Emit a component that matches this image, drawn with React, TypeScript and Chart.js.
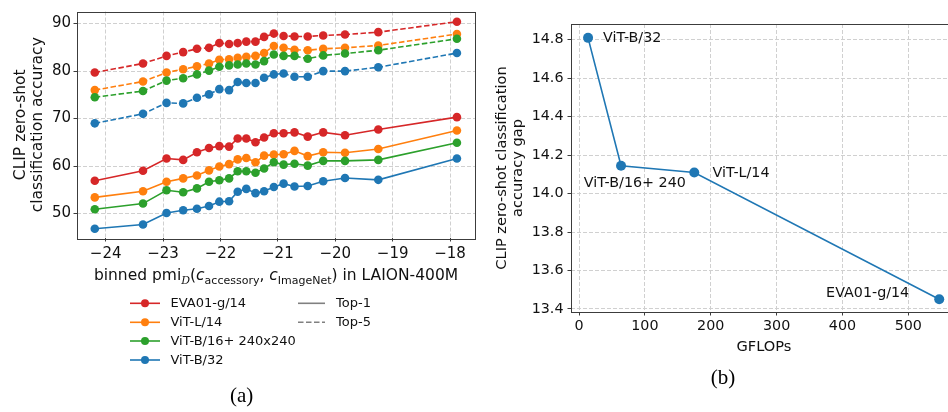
import React, { useEffect, useRef } from "react";
import { Chart, registerables } from "chart.js";
Chart.register(...registerables);

// ---------------- Panel (a) data ----------------
const pmiBins = [-24.19, -23.35, -22.94, -22.65, -22.41, -22.2, -22.02, -21.85, -21.7, -21.55, -21.39, -21.24, -21.07, -20.9, -20.71, -20.48, -20.21, -19.83, -19.25, -17.88];
const modelNames = ["EVA01-g/14", "ViT-L/14", "ViT-B/16+ 240x240", "ViT-B/32"];
const metricNames = ["Top-1", "Top-5"];
const eva01Top1 = [56.9, 59.0, 61.6, 61.3, 62.9, 63.8, 64.2, 64.1, 65.8, 65.8, 65.0, 66.0, 66.9, 66.9, 67.1, 66.2, 67.1, 66.5, 67.7, 70.3];
const eva01Top5 = [79.7, 81.6, 83.2, 84.0, 84.7, 84.9, 85.9, 85.7, 85.9, 86.2, 86.2, 87.2, 87.9, 87.4, 87.3, 87.3, 87.5, 87.7, 88.2, 90.4];
const vitL14Top1 = [53.4, 54.7, 56.7, 57.4, 58.0, 59.1, 59.9, 60.4, 61.4, 61.7, 60.8, 62.2, 62.4, 62.5, 63.2, 62.1, 62.9, 62.8, 63.6, 67.5];
const vitL14Top5 = [76.0, 77.8, 79.7, 80.4, 81.0, 81.6, 82.4, 82.5, 82.8, 83.0, 83.2, 83.8, 85.3, 84.9, 84.5, 84.4, 84.7, 84.9, 85.4, 87.8];
const vitB16Top1 = [50.9, 52.1, 54.9, 54.5, 55.3, 56.7, 57.0, 57.4, 58.9, 58.9, 58.6, 59.5, 60.8, 60.3, 60.5, 60.1, 61.1, 61.1, 61.3, 64.9];
const vitB16Top5 = [74.5, 75.8, 78.0, 78.5, 79.3, 80.1, 80.9, 81.2, 81.4, 81.6, 81.4, 82.1, 83.5, 83.2, 83.2, 82.6, 83.3, 83.7, 84.4, 86.8];
const vitB32Top1 = [46.8, 47.7, 50.1, 50.7, 51.0, 51.6, 52.5, 52.6, 54.6, 55.2, 54.3, 54.7, 55.6, 56.3, 55.7, 55.8, 56.8, 57.5, 57.1, 61.6];
const vitB32Top5 = [69.0, 71.0, 73.3, 73.2, 74.4, 75.1, 76.2, 76.0, 77.7, 77.5, 77.5, 78.6, 79.3, 79.5, 78.8, 78.8, 80.0, 80.0, 80.8, 83.8];
const pmiTicks = [-24, -23, -22, -21, -20, -19, -18];
const accuracyTicks = [50, 60, 70, 80, 90];

// ---------------- Panel (b) data ----------------
const gapModels = ["ViT-B/32", "ViT-B/16+ 240", "ViT-L/14", "EVA01-g/14"];
const gflops = [13.7, 63.8, 175, 547];
const accuracyGap = [14.81, 14.145, 14.11, 13.45];
const gflopTicks = [0, 100, 200, 300, 400, 500];
const gapTicks = [13.4, 13.6, 13.8, 14.0, 14.2, 14.4, 14.6, 14.8];

// ---------------- Styles ----------------
const FONT = "DejaVu Sans";
const SERIF = "Liberation Serif";
const modelColors = ["#d62728", "#ff7f0e", "#2ca02c", "#1f77b4"];
const blue = "#1f77b4";
const textColor = "#111";
const gridColor = "#d0d0d0";
const frameColor = "#3c3c3c";
const dashPattern = [5.5, 2.5];
const labelOffsets = [
  { dx: 15, dy: 0.7, align: "left" },
  { dx: -37.3, dy: 17.7, align: "left" },
  { dx: 18.3, dy: 0.4, align: "left" },
  { dx: -30, dy: -6.3, align: "right" },
];

const fmtMinus = (v: number) => (v < 0 ? "\u2212" + Math.abs(v) : String(v));

function drawFrame(chart: any) {
  const { ctx, chartArea: a } = chart;
  ctx.save();
  ctx.strokeStyle = frameColor;
  ctx.lineWidth = 1;
  ctx.setLineDash([]);
  ctx.strokeRect(Math.round(a.left) + 0.5, Math.round(a.top) + 0.5, Math.round(a.right - a.left), Math.round(a.bottom - a.top));
  ctx.restore();
}

function drawRotated(ctx: any, text: string, x: number, y: number, font: string) {
  ctx.save();
  ctx.translate(x, y);
  ctx.rotate(-Math.PI / 2);
  ctx.font = font;
  ctx.fillStyle = textColor;
  ctx.textAlign = "center";
  ctx.textBaseline = "alphabetic";
  ctx.fillText(text, 0, 0);
  ctx.restore();
}

const leftPlugin = {
  id: "leftDecor",
  afterDraw(chart: any) {
    const { ctx, chartArea: a } = chart;
    drawFrame(chart);
    const cy = (a.top + a.bottom) / 2;
    drawRotated(ctx, "CLIP zero-shot", 25, cy, `15.5px "${FONT}"`);
    drawRotated(ctx, "classification accuracy", 42, cy, `15.5px "${FONT}"`);

    // x title with subscripts
    const main = `15.5px "${FONT}"`;
    const ital = `italic 15.5px "${FONT}"`;
    const sub = `11px "${FONT}"`;
    const parts: any[] = [
      { t: "binned pmi", f: main, dy: 0 },
      { t: "D", f: `italic 11px "DejaVu Serif"`, dy: 3.5 },
      { t: "(", f: main, dy: 0 },
      { t: "c", f: ital, dy: 0 },
      { t: "accessory", f: sub, dy: 3.5 },
      { t: ", ", f: main, dy: 0 },
      { t: "c", f: ital, dy: 0 },
      { t: "ImageNet", f: sub, dy: 3.5 },
      { t: ") in LAION-400M", f: main, dy: 0 },
    ];
    ctx.save();
    ctx.fillStyle = textColor;
    ctx.textBaseline = "alphabetic";
    ctx.textAlign = "left";
    let total = 0;
    parts.forEach((p) => { ctx.font = p.f; p.w = ctx.measureText(p.t).width; total += p.w; });
    let x = (a.left + a.right) / 2 - total / 2;
    parts.forEach((p) => { ctx.font = p.f; ctx.fillText(p.t, x, 280 + p.dy); x += p.w; });

    // legend
    const rows = [303.3, 322.3, 341, 360];
    ctx.font = `13px "${FONT}"`;
    ctx.textBaseline = "middle";
    modelNames.forEach((name, i) => {
      const y = rows[i];
      ctx.strokeStyle = modelColors[i];
      ctx.lineWidth = 1.6;
      ctx.setLineDash([]);
      ctx.beginPath(); ctx.moveTo(130, y); ctx.lineTo(160, y); ctx.stroke();
      ctx.fillStyle = modelColors[i];
      ctx.beginPath(); ctx.arc(145, y, 4, 0, Math.PI * 2); ctx.fill();
      ctx.fillStyle = textColor;
      ctx.fillText(name, 170.5, y + 0.5);
    });
    metricNames.forEach((name, i) => {
      const y = rows[i];
      ctx.strokeStyle = "#808080";
      ctx.lineWidth = 1.6;
      ctx.setLineDash(i === 0 ? [] : dashPattern);
      ctx.beginPath(); ctx.moveTo(298, y); ctx.lineTo(325, y); ctx.stroke();
      ctx.setLineDash([]);
      ctx.fillStyle = textColor;
      ctx.fillText(name, 336, y + 0.5);
    });

    // caption
    ctx.font = `21px "${SERIF}"`;
    ctx.fillStyle = "#000";
    ctx.textAlign = "center";
    ctx.textBaseline = "alphabetic";
    ctx.fillText("(a)", 241.7, 401.5);
    ctx.restore();
  },
};

const rightPlugin = {
  id: "rightDecor",
  afterDraw(chart: any) {
    const { ctx, chartArea: a } = chart;
    drawFrame(chart);
    drawRotated(ctx, "CLIP zero-shot classification", 26, (a.top + a.bottom) / 2, `14.6px "${FONT}"`);
    drawRotated(ctx, "accuracy gap", 42, (a.top + a.bottom) / 2, `14.6px "${FONT}"`);
    ctx.save();
    ctx.fillStyle = textColor;
    ctx.font = `14.6px "${FONT}"`;
    ctx.textAlign = "center";
    ctx.textBaseline = "alphabetic";
    ctx.fillText("GFLOPs", (a.left + a.right) / 2, 350.5);

    const meta = chart.getDatasetMeta(0);
    ctx.font = `14.3px "${FONT}"`;
    ctx.textBaseline = "middle";
    gapModels.forEach((name, i) => {
      const pt = meta.data[i];
      const o = labelOffsets[i];
      ctx.textAlign = o.align;
      ctx.fillText(name, pt.x + o.dx, pt.y + o.dy);
    });

    ctx.font = `21px "${SERIF}"`;
    ctx.fillStyle = "#000";
    ctx.textAlign = "center";
    ctx.textBaseline = "alphabetic";
    ctx.fillText("(b)", 243, 383.5);
    ctx.restore();
  },
};

function gridOpts() {
  return {
    color: gridColor,
    lineWidth: 1,
    drawTicks: true,
    tickLength: 3.5,
    tickColor: frameColor,
    tickWidth: 1,
    tickBorderDash: [],
  };
}

function leftConfig(): any {
  const top1 = [eva01Top1, vitL14Top1, vitB16Top1, vitB32Top1];
  const top5 = [eva01Top5, vitL14Top5, vitB16Top5, vitB32Top5];
  const datasets: any[] = [];
  for (let i = modelNames.length - 1; i >= 0; i--) {
    [top1[i], top5[i]].forEach((series, k) => {
      datasets.push({
        label: modelNames[i] + " " + metricNames[k],
        data: pmiBins.map((x, j) => ({ x, y: series[j] })),
        borderColor: modelColors[i],
        backgroundColor: modelColors[i],
        pointBackgroundColor: modelColors[i],
        pointBorderColor: modelColors[i],
        borderWidth: 1.6,
        borderDash: k === 0 ? [] : dashPattern,
        pointRadius: 4.3,
        pointBorderWidth: 0,
        tension: 0,
        fill: false,
      });
    });
  }
  return {
    type: "line",
    data: { datasets },
    plugins: [leftPlugin],
    options: {
      animation: false,
      responsive: false,
      devicePixelRatio: 1,
      events: [],
      layout: { autoPadding: false, padding: { left: 0, top: 6, right: 5, bottom: 0 } },
      plugins: { legend: { display: false }, tooltip: { enabled: false } },
      scales: {
        x: {
          type: "linear",
          min: -24.5,
          max: -17.565,
          afterFit: (s: any) => { s.height = 174; },
          afterBuildTicks: (s: any) => { s.ticks = pmiTicks.map((v) => ({ value: v })); },
          ticks: { font: { family: FONT, size: 15 }, color: textColor, padding: 3.5, callback: (v: any) => fmtMinus(Number(v)), maxRotation: 0, autoSkip: false },
          grid: gridOpts(),
          border: { display: false, dash: [4, 2] },
        },
        y: {
          type: "linear",
          min: 44.85,
          max: 92.55,
          afterFit: (s: any) => { s.width = 77; },
          afterBuildTicks: (s: any) => { s.ticks = accuracyTicks.map((v) => ({ value: v })); },
          ticks: { font: { family: FONT, size: 15 }, color: textColor, padding: 2.5, callback: (v: any) => String(v), autoSkip: false },
          grid: gridOpts(),
          border: { display: false, dash: [4, 2] },
        },
      },
    },
  };
}

function rightConfig(): any {
  return {
    type: "line",
    data: {
      datasets: [
        {
          label: "accuracy gap",
          data: gflops.map((x, j) => ({ x, y: accuracyGap[j] })),
          borderColor: blue,
          backgroundColor: blue,
          pointBackgroundColor: blue,
          pointBorderColor: blue,
          borderWidth: 1.6,
          pointRadius: 5,
          pointBorderWidth: 0,
          tension: 0,
          fill: false,
        },
      ],
    },
    plugins: [rightPlugin],
    options: {
      animation: false,
      responsive: false,
      devicePixelRatio: 1,
      events: [],
      layout: { autoPadding: false, padding: { left: 0, top: 24, right: 3, bottom: 0 } },
      plugins: { legend: { display: false }, tooltip: { enabled: false } },
      scales: {
        x: {
          type: "linear",
          min: -12.2,
          max: 574,
          afterFit: (s: any) => { s.height = 100; },
          afterBuildTicks: (s: any) => { s.ticks = gflopTicks.map((v) => ({ value: v })); },
          ticks: { font: { family: FONT, size: 14.3 }, color: textColor, padding: 2.5, callback: (v: any) => String(v), maxRotation: 0, autoSkip: false },
          grid: gridOpts(),
          border: { display: false, dash: [4, 2] },
        },
        y: {
          type: "linear",
          min: 13.384,
          max: 14.882,
          afterFit: (s: any) => { s.width = 91; },
          afterBuildTicks: (s: any) => { s.ticks = gapTicks.map((v) => ({ value: v })); },
          ticks: { font: { family: FONT, size: 14.3 }, color: textColor, padding: 4, callback: (v: any) => Number(v).toFixed(1), autoSkip: false },
          grid: gridOpts(),
          border: { display: false, dash: [4, 2] },
        },
      },
    },
  };
}

export default function App() {
  const leftRef = useRef<HTMLCanvasElement>(null);
  const rightRef = useRef<HTMLCanvasElement>(null);
  useEffect(() => {
    const left = new Chart(leftRef.current as HTMLCanvasElement, leftConfig());
    const right = new Chart(rightRef.current as HTMLCanvasElement, rightConfig());
    return () => {
      left.destroy();
      right.destroy();
    };
  }, []);
  return (
    <div style={{ position: "fixed", left: 0, top: 0, width: 948, height: 412, overflow: "hidden", background: "#fff" }}>
      <canvas ref={leftRef} width={480} height={412} style={{ position: "absolute", left: 0, top: 0, width: 480, height: 412 }} />
      <canvas ref={rightRef} width={480} height={412} style={{ position: "absolute", left: 480, top: 0, width: 480, height: 412 }} />
    </div>
  );
}
